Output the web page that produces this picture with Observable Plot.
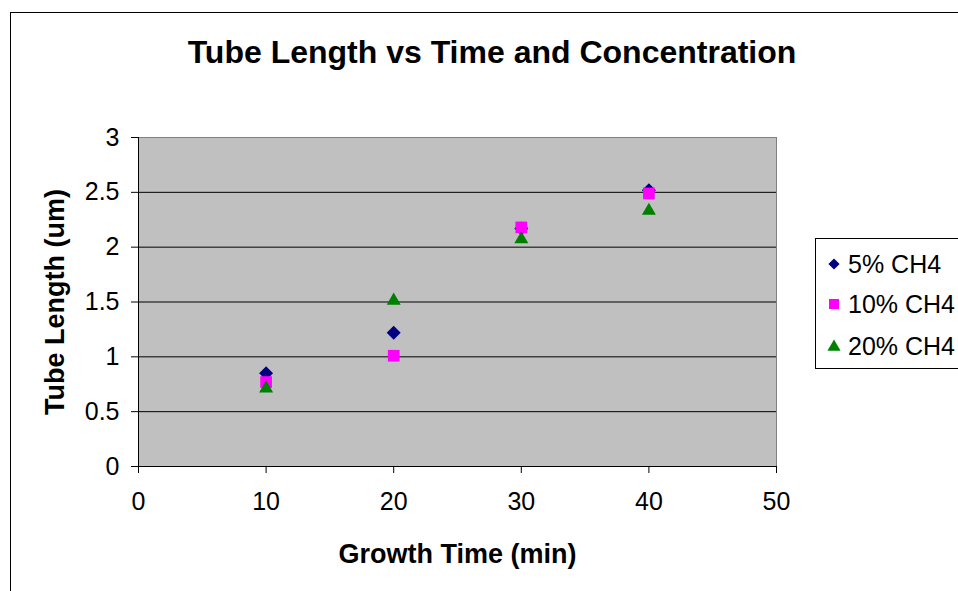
<!DOCTYPE html>
<html>
<head>
<meta charset="utf-8">
<script src="https://cdn.jsdelivr.net/npm/d3@7"></script>
<script src="https://cdn.jsdelivr.net/npm/@observablehq/plot@0.6"></script>
<style>
  html, body { margin: 0; padding: 0; background: #fff; }
  #wrap { position: relative; width: 958px; height: 591px; overflow: hidden; background: #fff;
          font-family: "Liberation Sans", Arial, sans-serif; color: #000; }
  #border { position: absolute; left: 10px; top: 12px; width: 1000px; height: 700px;
            border-left: 1px solid #000; border-top: 1px solid #000; }
  #chart { position: absolute; left: 0; top: 0; }
  #title { position: absolute; left: 0; width: 984px; top: 32px; text-align: center;
           font-size: 32px; font-weight: bold; line-height: 40px; white-space: nowrap; }
  #legend { position: absolute; left: 815px; top: 238px; width: 200px; height: 129px;
            border: 1px solid #000; background: #fff; }
  .item { position: absolute; left: 0; height: 30px; white-space: nowrap; font-size: 25px; }
  .item svg { position: absolute; left: 8px; top: 0; }
  .item span { position: absolute; left: 32px; top: 0; line-height: 30px; }
</style>
</head>
<body>
<div id="wrap">
  <div id="border"></div>
  <div id="chart"></div>
  <div id="title">Tube Length vs Time and Concentration</div>
  <div id="legend"></div>
</div>
<script>
// ---- data ----
const times = [10, 20, 30, 40];
const ch4_5 = [0.85, 1.22, 2.17, 2.52];
const ch4_10 = [0.77, 1.01, 2.18, 2.49];
const ch4_20 = [0.73, 1.53, 2.09, 2.35];
const seriesNames = ["5% CH4", "10% CH4", "20% CH4"];
const xTicks = [0, 10, 20, 30, 40, 50];
const yTicks = [0, 0.5, 1, 1.5, 2, 2.5, 3];
const gridTicks = [0.5, 1, 1.5, 2, 2.5];
const xLabel = "Growth Time (min)";
const yLabel = "Tube Length (um)";

const colors = ["#000080", "#FF00FF", "#008000"];
const symbols = ["diamond2", "square", "triangle"];
const radii = [6.3, 6.6, 5.2];
const dys = [0, 0, 2];

const seriesValues = [ch4_5, ch4_10, ch4_20];
const rows = seriesValues.map((vals, i) => times.map((t, j) => ({time: t, length: vals[j], series: seriesNames[i]})));

const dotMarks = rows.map((data, i) => Plot.dot(data, {
  x: "time", y: "length", symbol: () => symbols[i], fill: colors[i], stroke: "none",
  r: radii[i], dy: dys[i]
}));

const chart = Plot.plot({
  width: 958,
  height: 591,
  marginLeft: 138,
  marginRight: 182,
  marginTop: 137,
  marginBottom: 125,
  style: {background: "transparent", fontFamily: "Liberation Sans, Arial, sans-serif", fontSize: "25px", color: "#000", overflow: "visible"},
  x: {domain: [0, 50]},
  y: {domain: [0, 3]},
  symbol: {type: "identity"},
  marks: [
    Plot.frame({fill: "#c0c0c0", stroke: "#808080"}),
    Plot.gridY(gridTicks, {stroke: "#000", strokeOpacity: 1, strokeWidth: 1}),
    Plot.ruleX([0], {stroke: "#000"}),
    Plot.ruleY([0], {stroke: "#000"}),
    Plot.axisX({ticks: xTicks, tickSize: 7, tickPadding: 19, label: null, fontSize: 25, tickFormat: d3.format("~g")}),
    Plot.axisY({ticks: yTicks, tickSize: 7, tickPadding: 12, label: null, fontSize: 25, tickFormat: d3.format("~g")}),
    Plot.text([xLabel], {frameAnchor: "bottom", text: d => d, dy: 96, lineAnchor: "bottom", fontSize: 27, fontWeight: "bold"}),
    Plot.text([yLabel], {frameAnchor: "left", text: d => d, dx: -75, rotate: -90, lineAnchor: "bottom", textAnchor: "middle", fontSize: 27, fontWeight: "bold"}),
    ...dotMarks
  ]
});
document.getElementById("chart").appendChild(chart);

// ---- legend ----
const legend = document.getElementById("legend");
const itemTops = [10, 50, 92];
seriesNames.forEach((name, i) => {
  const item = document.createElement("div");
  item.className = "item";
  item.style.top = itemTops[i] + "px";
  const svg = d3.create("svg").attr("width", 20).attr("height", 30);
  const sym = {diamond2: d3.symbolDiamond2, square: d3.symbolSquare, triangle: d3.symbolTriangle}[symbols[i]];
  const sizes = [80, 100, 75];
  svg.append("path")
    .attr("transform", `translate(10,${15 + (i === 2 ? 1 : 0)})`)
    .attr("d", d3.symbol(sym, sizes[i])())
    .attr("fill", colors[i]);
  item.appendChild(svg.node());
  const span = document.createElement("span");
  span.textContent = name;
  item.appendChild(span);
  legend.appendChild(item);
});
</script>
</body>
</html>
